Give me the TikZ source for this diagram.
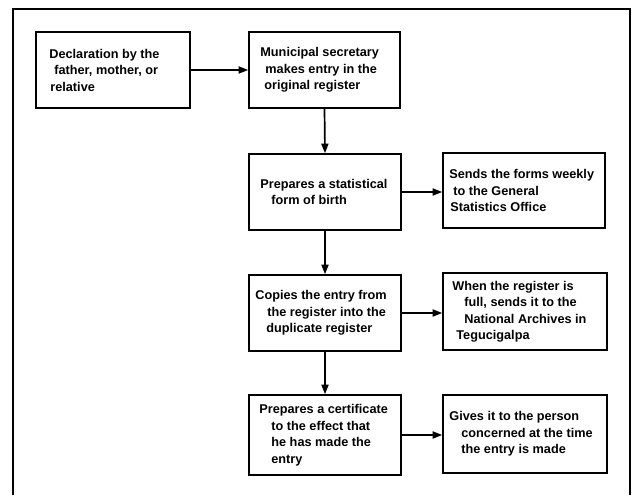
\documentclass[tikz,border=0pt]{standalone}
\usepackage{fontspec}
\setmainfont{Liberation Sans}
\usetikzlibrary{arrows.meta}
\begin{document}
\begin{tikzpicture}[x=1pt,y=-1pt,
  box/.style={draw, line width=1.6pt, inner sep=0pt},
  txt/.style={align=left, inner sep=0pt, anchor=west,
    font=\bfseries\fontsize{12.7}{16.5}\selectfont},
  conn/.style={line width=1.7pt, -{Triangle[length=9.5pt,width=7pt]}},
  frame/.style={line width=2pt}]
\useasboundingbox (0,0) rectangle (634,495);
\draw[frame] (13,495) -- (13,9) -- (630,9) -- (630,495);

\node[box, minimum width=154pt, minimum height=76pt] (b1) at (113,70) {};
\node[box, minimum width=151pt, minimum height=76pt] (b2) at (324.5,70) {};
\node[box, minimum width=152pt, minimum height=76pt] (b3) at (325,192) {};
\node[box, minimum width=162pt, minimum height=75pt] (b4) at (524,190.5) {};
\node[box, minimum width=152pt, minimum height=76pt] (b5) at (325,313) {};
\node[box, minimum width=164pt, minimum height=77pt] (b6) at (525,311.5) {};
\node[box, minimum width=152pt, minimum height=80pt] (b7) at (325,435) {};
\node[box, minimum width=164pt, minimum height=78pt] (b8) at (525,434) {};

\node[txt] (t1) at ([xshift=14pt]b1.west)
  {Declaration by the\\\hspace*{5pt}father, mother, or\\\hspace*{1pt}relative};
\node[txt] (t2) at ([xshift=12pt]b2.west)
  {Municipal secretary\\\hspace*{5pt}makes entry in the\\\hspace*{4pt}original register};
\node[txt] (t3) at ([xshift=12pt]b3.west)
  {Prepares a statistical\\\hspace*{11pt}form of birth};
\node[txt] (t4) at ([xshift=7pt]b4.west)
  {Sends the forms weekly\\\hspace*{4pt}to the General\\\hspace*{1pt}Statistics Office};
\node[txt] (t5) at ([xshift=7pt]b5.west)
  {Copies the entry from\\\hspace*{12pt}the register into the\\\hspace*{11pt}duplicate register};
\node[txt] (t6) at ([xshift=10pt]b6.west)
  {When the register is\\\hspace*{12pt}full, sends it to the\\\hspace*{12pt}National Archives in\\\hspace*{4pt}Tegucigalpa};
\node[txt] (t7) at ([xshift=11pt]b7.west)
  {Prepares a certificate\\\hspace*{12pt}to the effect that\\\hspace*{12pt}he has made the\\\hspace*{12pt}entry};
\node[txt] (t8) at ([xshift=7pt]b8.west)
  {Gives it to the person\\\hspace*{12pt}concerned at the time\\\hspace*{12pt}the entry is made};

\draw[conn] (b1.east) -- (b2.west);
\draw[conn] (b2.south) -- (b3.north);
\draw[conn] (b3.south) -- (b5.north);
\draw[conn] (b5.south) -- (b7.north);
\draw[conn] (b3.east) -- (b3.east -| b4.west);
\draw[conn] (b5.east) -- (b5.east -| b6.west);
\draw[conn] (b7.east) -- (b7.east -| b8.west);
\end{tikzpicture}
\end{document}
